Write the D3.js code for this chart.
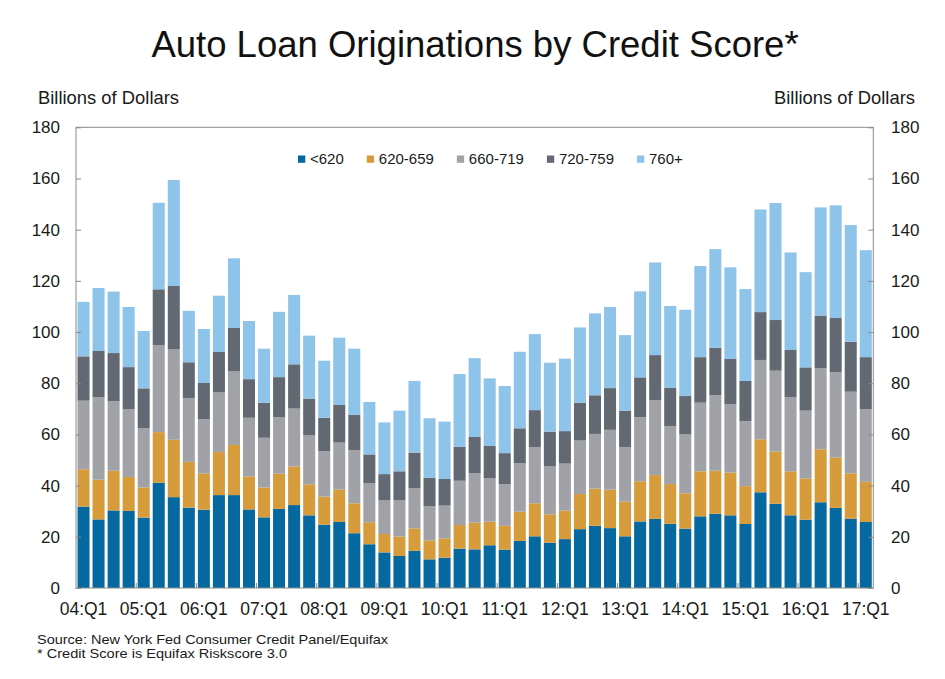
<!DOCTYPE html>
<html>
<head>
<meta charset="utf-8">
<script src="https://cdn.jsdelivr.net/npm/d3@7"></script>
<style>
  html, body { margin: 0; padding: 0; background: #fff; }
  svg { display: block; font-family: "Liberation Sans", Arial, Helvetica, sans-serif; }
</style>
</head>
<body>
<svg id="chart" width="945" height="679"></svg>
<script>
// ---------- Data ----------
const categories = [
  "04:Q1","04:Q2","04:Q3","04:Q4","05:Q1","05:Q2","05:Q3","05:Q4",
  "06:Q1","06:Q2","06:Q3","06:Q4","07:Q1","07:Q2","07:Q3","07:Q4",
  "08:Q1","08:Q2","08:Q3","08:Q4","09:Q1","09:Q2","09:Q3","09:Q4",
  "10:Q1","10:Q2","10:Q3","10:Q4","11:Q1","11:Q2","11:Q3","11:Q4",
  "12:Q1","12:Q2","12:Q3","12:Q4","13:Q1","13:Q2","13:Q3","13:Q4",
  "14:Q1","14:Q2","14:Q3","14:Q4","15:Q1","15:Q2","15:Q3","15:Q4",
  "16:Q1","16:Q2","16:Q3","16:Q4","17:Q1"
];
const xTickLabels = ["04:Q1","05:Q1","06:Q1","07:Q1","08:Q1","09:Q1","10:Q1",
  "11:Q1","12:Q1","13:Q1","14:Q1","15:Q1","16:Q1","17:Q1"];
const yTicks = [0, 20, 40, 60, 80, 100, 120, 140, 160, 180];
const seriesNames = ["<620", "620-659", "660-719", "720-759", "760+"];

const under620 = [31.8,26.8,30.3,30.1,27.5,41.1,35.5,31.4,30.6,36.3,36.3,30.7,27.6,30.9,32.4,28.4,
  24.7,25.8,21.4,17.1,13.9,12.5,14.5,11.2,11.8,15.4,15.1,16.7,15.0,18.4,20.2,17.7,
  19.1,23.0,24.3,23.4,20.2,26.0,27.0,25.1,23.2,28.0,29.0,28.4,25.0,37.4,32.9,28.4,
  26.7,33.5,31.3,27.1,25.8];
const s620_659 = [14.6,15.5,15.5,13.3,11.8,19.8,22.4,17.9,14.1,16.8,19.6,12.9,11.7,13.8,15.1,12.1,
  11.0,12.7,11.7,8.6,7.2,7.6,8.8,7.4,7.6,9.2,10.4,9.2,9.3,11.4,12.9,11.1,
  11.1,13.7,14.5,15.0,13.5,15.7,17.1,15.5,13.8,17.6,16.8,16.7,14.8,20.7,20.4,17.2,
  16.1,20.7,19.7,17.7,15.7];
const s660_719 = [26.8,32.2,27.2,26.4,23.1,34.0,35.3,24.9,21.2,23.3,28.7,22.9,19.4,22.1,22.6,19.1,
  17.8,18.3,20.7,15.3,13.1,14.1,15.6,13.4,12.8,17.3,19.3,16.9,16.3,18.9,22.0,18.7,
  18.4,20.9,21.4,23.4,21.4,25.1,29.2,22.6,23.0,26.8,29.5,26.8,25.4,31.0,31.6,28.9,
  26.5,31.6,33.4,31.9,28.3];
const s720_759 = [17.3,18.1,18.8,16.5,15.6,21.8,24.8,14.0,14.2,15.8,17.0,15.1,13.7,15.6,17.3,14.4,
  13.0,14.7,13.9,11.2,10.3,11.4,14.0,11.1,10.4,13.3,14.2,12.7,12.1,13.7,14.4,13.6,
  12.7,14.8,15.1,16.3,14.2,15.5,17.7,15.1,15.0,17.8,18.6,17.6,15.7,18.7,19.8,18.5,
  16.9,20.5,21.1,19.5,20.4];
const s760plus = [21.3,24.6,24.0,23.5,22.4,33.8,41.4,20.1,21.1,22.0,27.2,22.7,21.1,25.5,27.1,24.6,
  22.3,26.3,25.8,20.5,20.2,23.7,28.0,23.2,22.4,28.4,30.8,26.4,26.2,29.9,29.7,26.9,
  28.3,29.4,32.0,31.7,29.5,33.6,36.2,31.9,33.7,35.6,38.5,35.8,35.9,40.1,45.7,38.1,
  37.2,42.4,44.0,45.6,41.8];

const colors = ["#05689f", "#d69b3a", "#a0a2a7", "#636973", "#8ec3ea"];

(function () {
// ---------- Build table ----------
const seriesValues = [under620, s620_659, s660_719, s720_759, s760plus];
const table = categories.map((c, i) => {
  const row = { cat: c };
  seriesNames.forEach((n, k) => { row[n] = seriesValues[k][i]; });
  return row;
});

// ---------- Layout ----------
const svg = d3.select("#chart");
const W = 945, H = 679;
const pLeft = 76, pRight = 873.3, pTop = 127.3, pBottom = 588;

const x = d3.scaleBand().domain(categories).range([pLeft, pRight])
  .paddingInner(0.2).paddingOuter(0.1);
const y = d3.scaleLinear().domain([0, 180]).range([pBottom, pTop]);

svg.append("rect").attr("width", W).attr("height", H).attr("fill", "#fff");

// Title
svg.append("text")
  .attr("x", 475).attr("y", 57)
  .attr("text-anchor", "middle")
  .attr("font-size", 36.5)
  .attr("fill", "#111")
  .text("Auto Loan Originations by Credit Score*");

// Axis titles
svg.append("text").attr("x", 38).attr("y", 104)
  .attr("font-size", 18.4).attr("fill", "#1a1a1a").text("Billions of Dollars");
svg.append("text").attr("x", 915).attr("y", 104).attr("text-anchor", "end")
  .attr("font-size", 18.4).attr("fill", "#1a1a1a").text("Billions of Dollars");

// Bars
const stacked = d3.stack().keys(seriesNames)(table);
const gBars = svg.append("g");
stacked.forEach((layer, k) => {
  gBars.append("g").attr("fill", colors[k])
    .selectAll("rect").data(layer).join("rect")
    .attr("x", d => x(d.data.cat))
    .attr("width", x.bandwidth())
    .attr("y", d => y(d[1]))
    .attr("height", d => y(d[0]) - y(d[1]));
});

// Frame
svg.append("rect")
  .attr("x", pLeft).attr("y", pTop)
  .attr("width", pRight - pLeft).attr("height", pBottom - pTop)
  .attr("fill", "none").attr("stroke", "#8a8a8a").attr("stroke-width", 1);

// Y axes
const yAxisL = d3.axisLeft(y).tickValues(yTicks).tickSize(-5).tickPadding(16);
const gL = svg.append("g").attr("transform", `translate(${pLeft},0)`).call(yAxisL);
const yAxisR = d3.axisRight(y).tickValues(yTicks).tickSize(-5).tickPadding(17.7);
const gR = svg.append("g").attr("transform", `translate(${pRight},0)`).call(yAxisR);
[gL, gR].forEach(g => {
  g.select(".domain").remove();
  g.selectAll(".tick line").attr("stroke", "#8a8a8a");
  g.selectAll(".tick text").attr("font-size", 17).attr("fill", "#1a1a1a")
    .attr("font-family", "Liberation Sans, Arial, sans-serif");
});

// X axis labels
const xAxis = d3.axisBottom(x).tickValues(xTickLabels).tickSize(0).tickPadding(14.6);
const gX = svg.append("g").attr("transform", `translate(0,${pBottom})`).call(xAxis);
gX.select(".domain").remove();
gX.selectAll(".tick text").attr("font-size", 17.5).attr("fill", "#1a1a1a")
  .attr("font-family", "Liberation Sans, Arial, sans-serif");

// X boundary ticks (between Q4 and Q1)
const halfGap = x.step() * x.paddingInner() / 2;
svg.append("g").selectAll("line").data(xTickLabels.slice(1)).join("line")
  .attr("x1", d => x(d) - halfGap).attr("x2", d => x(d) - halfGap)
  .attr("y1", pBottom).attr("y2", pBottom - 5)
  .attr("stroke", "#8a8a8a");

// Legend
const gLeg = svg.append("g");
let lx = 298;
seriesNames.forEach((n, k) => {
  gLeg.append("rect").attr("x", lx).attr("y", 155.5).attr("width", 7.3).attr("height", 7.3)
    .attr("fill", colors[k]);
  const t = gLeg.append("text").attr("x", lx + 12).attr("y", 164.3)
    .attr("font-size", 15).attr("fill", "#1a1a1a").text(n);
  lx = lx + 12 + t.node().getComputedTextLength() + 23;
});

// Footnotes
svg.append("text").attr("x", 37).attr("y", 643.5).attr("font-size", 12.4).attr("fill", "#1a1a1a")
  .attr("textLength", 351).attr("lengthAdjust", "spacingAndGlyphs")
  .text("Source: New York Fed Consumer Credit Panel/Equifax");
svg.append("text").attr("x", 37).attr("y", 658).attr("font-size", 12.4).attr("fill", "#1a1a1a")
  .attr("textLength", 250).attr("lengthAdjust", "spacingAndGlyphs")
  .text("* Credit Score is Equifax Riskscore 3.0");
})();
</script>
</body>
</html>
